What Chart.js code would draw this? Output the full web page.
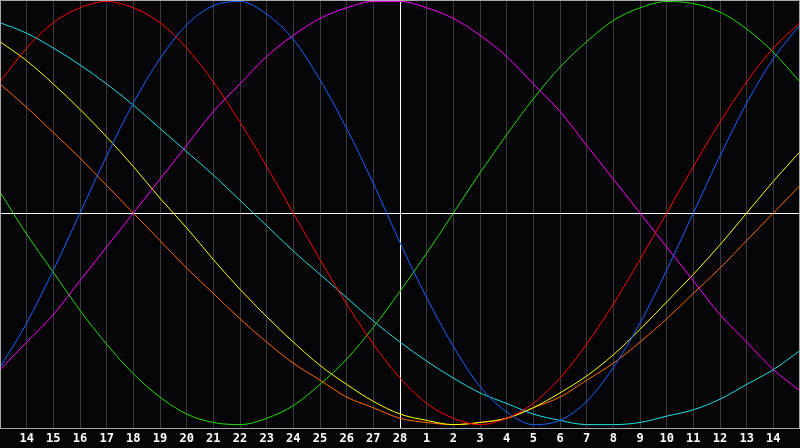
<!DOCTYPE html>
<html>
<head>
<meta charset="utf-8">
<title>Biorhythm</title>
<script src="https://cdn.jsdelivr.net/npm/chart.js@4.4.0/dist/chart.umd.min.js"></script>
<style>
    html, body { margin: 0; padding: 0; background: #050508; }
    #wrap { width: 800px; height: 448px; }
</style>
</head>
<body>
<div id="wrap"><canvas id="bioChart" width="800" height="448"></canvas></div>
<script>
// Day labels under the grid lines (positions 1..29, edges 0 and 30 unlabeled)
const dayLabels = ['14', '15', '16', '17', '18', '19', '20', '21', '22', '23', '24', '25', '26', '27', '28',
    '1', '2', '3', '4', '5', '6', '7', '8', '9', '10', '11', '12', '13', '14'];
const todayLabel = '28';

// Curve values, one per day from the left edge (position 0) to the right edge (position 30)
const red = [62, 78, 90, 97, 100, 97, 90, 78, 62, 43, 22, 0, -22, -43, -62, -78, -90, -97, -100, -97,
    -90, -78, -62, -43, -22, 0, 22, 43, 62, 78, 90];
const blue = [-73, -52, -27, 0, 27, 52, 73, 89, 98, 100, 94, 82, 63, 40, 14, -14, -40, -63, -82, -94,
    -100, -98, -89, -73, -52, -27, 0, 27, 52, 73, 89];
const green = [10, -10, -28, -46, -62, -76, -87, -95, -99, -100, -97, -91, -81, -69, -54, -37, -19, 0, 19, 37,
    54, 69, 81, 91, 97, 100, 99, 95, 87, 76, 62];
const magenta = [-74, -61, -48, -32, -16, 0, 16, 32, 48, 61, 74, 84, 92, 97, 100, 100, 97, 92, 84, 74,
    61, 48, 32, 16, 0, -16, -32, -48, -61, -74, -84];
const yellow = [81, 72, 61, 49, 36, 22, 7, -7, -22, -36, -49, -61, -72, -81, -89, -95, -98, -100, -99, -97,
    -92, -85, -77, -67, -55, -42, -29, -15, 0, 15, 29];
const orange = [61, 50, 38, 26, 13, 0, -13, -26, -38, -50, -61, -71, -79, -87, -92, -97, -99, -100, -99, -97,
    -92, -87, -79, -71, -61, -50, -38, -26, -13, 0, 13];
const cyan = [90, 85, 78, 70, 61, 51, 40, 29, 18, 6, -6, -18, -29, -40, -51, -61, -70, -78, -85, -90,
    -95, -98, -100, -100, -99, -96, -93, -88, -81, -74, -65];

const BioChart = {
    /**
     * Build the chart
     */
    init() {
        const ctx = document.getElementById('bioChart').getContext('2d');
        const todayPos = dayLabels.indexOf(todayLabel) + 1;

        const series = [
            { data: red, color: '#ff0000' },
            { data: blue, color: '#1464ff' },
            { data: magenta, color: '#ff00ff' },
            { data: green, color: '#22e000' },
            { data: cyan, color: '#22e0e0' },
            { data: yellow, color: '#ffff00' },
            { data: orange, color: '#ff6a00' }
        ];

        this.chart = new Chart(ctx, {
            type: 'line',
            data: {
                datasets: series.map(s => ({
                    data: s.data.map((v, i) => ({ x: i, y: v })),
                    borderColor: s.color,
                    borderWidth: 1,
                    pointRadius: 0,
                    pointHoverRadius: 0,
                    cubicInterpolationMode: 'monotone',
                    fill: false
                }))
            },
            options: {
                responsive: false,
                animation: false,
                devicePixelRatio: 1,
                layout: { autoPadding: false, padding: 0 },
                plugins: {
                    legend: { display: false },
                    tooltip: { enabled: false }
                },
                scales: {
                    x: {
                        type: 'linear',
                        min: 0,
                        max: dayLabels.length + 1,
                        border: { color: '#a8a8a8', width: 1 },
                        grid: {
                            drawTicks: false,
                            color: (c) => (c.tick.value <= 0 || c.tick.value > dayLabels.length) ? 'rgba(0,0,0,0)' : '#3a3a3a'
                        },
                        ticks: {
                            stepSize: 1,
                            autoSkip: false,
                            maxRotation: 0,
                            padding: 4,
                            color: '#ffffff',
                            font: { family: "'DejaVu Sans Mono', monospace", size: 12, weight: 'bold' },
                            callback: (value) => dayLabels[value - 1] || ''
                        },
                        afterFit: (scale) => {
                            // plot runs edge to edge, label strip is 20px
                            scale.paddingLeft = 0;
                            scale.paddingRight = 0;
                            scale.height = 20;
                        }
                    },
                    y: {
                        display: false,
                        min: -101.6,
                        max: 100.7
                    }
                }
            },
            plugins: [{
                id: 'frame',
                beforeDraw(chart) {
                    const c = chart.ctx;
                    c.save();
                    c.fillStyle = '#050508';
                    c.fillRect(0, 0, chart.width, chart.height);
                    c.restore();
                },
                beforeDatasetsDraw(chart) {
                    const { ctx: c, chartArea: a, scales } = chart;
                    const xToday = Math.round(scales.x.getPixelForValue(todayPos)) + 0.5;
                    const yZero = Math.round(scales.y.getPixelForValue(0)) + 0.5;
                    c.save();
                    c.strokeStyle = '#ffffff';
                    c.lineWidth = 1;
                    c.beginPath();
                    c.moveTo(xToday, a.top);
                    c.lineTo(xToday, a.bottom);
                    c.moveTo(a.left, yZero);
                    c.lineTo(a.right, yZero);
                    c.stroke();
                    c.restore();
                },
                afterDatasetsDraw(chart) {
                    const { ctx: c, chartArea: a } = chart;
                    c.save();
                    c.strokeStyle = '#a8a8a8';
                    c.lineWidth = 1;
                    c.strokeRect(a.left + 0.5, a.top + 0.5, a.right - a.left - 1, a.bottom - a.top);
                    c.restore();
                }
            }]
        });
    }
};

BioChart.init();
</script>
</body>
</html>
